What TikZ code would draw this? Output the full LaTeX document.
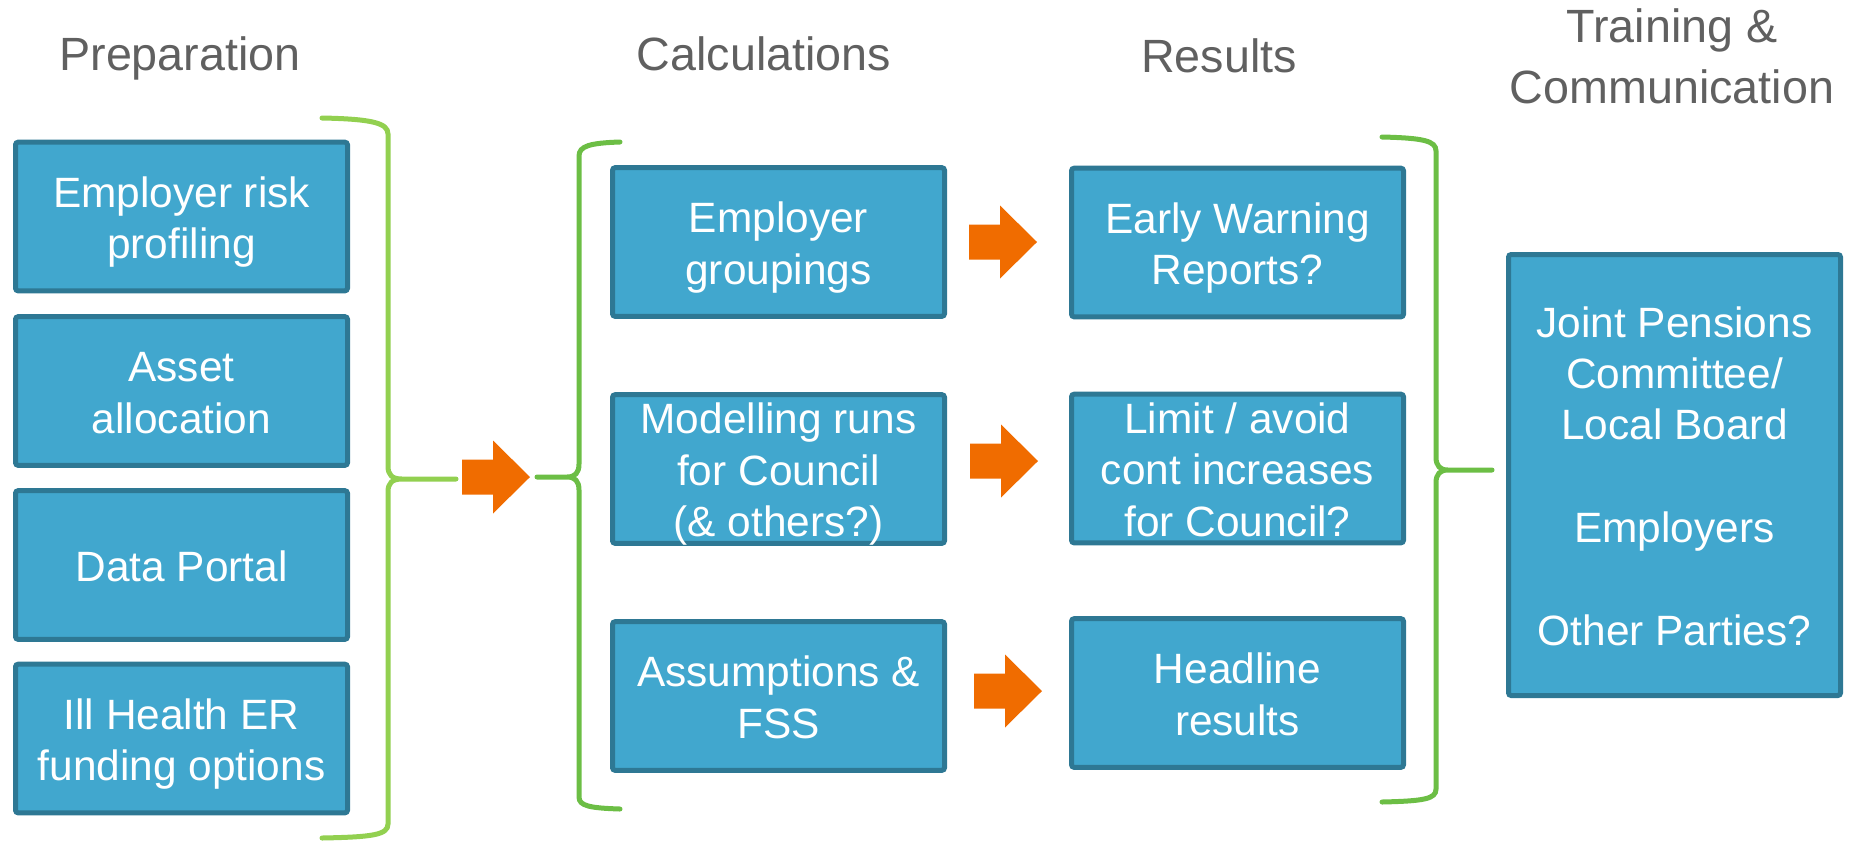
\documentclass[tikz,border=0pt]{standalone}
\usepackage{fontspec}
\setmainfont{Liberation Sans}
\usetikzlibrary{positioning}

\definecolor{boxfill}{RGB}{65,167,206}
\definecolor{boxline}{RGB}{46,120,148}
\definecolor{arroworange}{RGB}{240,108,0}
\definecolor{bracelight}{RGB}{146,208,80}
\definecolor{bracedark}{RGB}{108,190,69}
\definecolor{headgray}{RGB}{96,96,96}

% lines of a box, set like the slide, centred without growing the box
\newsavebox{\linesbox}
\newcommand{\boxlines}[1]{%
  \sbox{\linesbox}{\begin{tabular}{@{}c@{}}\rule{0pt}{1.14em}#1\end{tabular}}%
  \smash{\raisebox{\dimexpr(\dp\linesbox-\ht\linesbox)/2\relax}{\usebox{\linesbox}}}}
\newcommand{\orangearrow}[2]{%
  \fill[arroworange] (#1,#2) ++(0,-17.5) -- ++(31,0) -- ++(0,-19) -- ++(37,36.5)
    -- ++(-37,36.5) -- ++(0,-19) -- ++(-31,0) -- cycle;}

\begin{document}
\begin{tikzpicture}[x=0.75pt,y=0.75pt,yscale=-1,xscale=1,
    taskbox/.style={draw=boxline,fill=boxfill,line width=3.75pt,rounded corners=2pt,
      minimum width=249pt,minimum height=111.5pt,inner sep=0pt,text=white,
      font=\fontsize{31.8}{38.6}\selectfont},
    heading/.style={text=headgray,align=center,inner sep=0pt,
      font=\fontsize{35}{45.5}\selectfont},
    bracket/.style={line width=3.75pt,line cap=round}]
    \useasboundingbox (0,0) rectangle (1858,840);

    % Text Node
    \node[heading,anchor=base] (headPrep) at (180,70) {Preparation};
    % Text Node
    \node[heading,anchor=base] (headCalc) at (764,70) {Calculations};
    % Text Node
    \node[heading,anchor=base] (headRes) at (1219,72) {Results};
    % Text Node
    \node[heading] (headComm) at (1672,56.5) {Training \&\\Communication};

    %Shape: Rectangle
    \node[taskbox] (prepRisk) at (181.5,216.5) {\boxlines{Employer risk\\profiling}};
    \node[taskbox] (prepAsset) at (181.5,391) {\boxlines{Asset\\allocation}};
    \node[taskbox] (prepData) at (181.5,565) {\boxlines{Data Portal}};
    \node[taskbox] (prepIll) at (181.5,738.5) {\boxlines{Ill Health ER\\funding options}};

    %Shape: Rectangle
    \node[taskbox] (calcGroup) at (778.5,242) {\boxlines{Employer\\groupings}};
    \node[taskbox] (calcModel) at (778.5,469) {\boxlines{Modelling runs\\for Council\\(\& others?)}};
    \node[taskbox] (calcAssume) at (778.5,696) {\boxlines{Assumptions \&\\FSS}};

    %Shape: Rectangle
    \node[taskbox] (resWarn) at (1237.5,242.5) {\boxlines{Early Warning\\Reports?}};
    \node[taskbox] (resLimit) at (1237.5,468.5) {\boxlines{Limit / avoid\\cont increases\\for Council?}};
    \node[taskbox] (resHead) at (1237.5,693) {\boxlines{Headline\\results}};

    %Shape: Rectangle
    \node[taskbox,minimum height=330.75pt] (commBox) at (1674.5,475)
      {\boxlines{Joint Pensions\\Committee/\\Local Board\\[38.6pt]Employers\\[38.6pt]Other Parties?}};

    %Brackets
    \coordinate (prepTip) at (456,479);
    \coordinate (calcTip) at (537,477);
    \coordinate (resTip) at (1492,470);
    \draw[bracket,bracelight] (322,118) .. controls (372,119) and (388,123) .. (388,134)
      -- (388,466) .. controls (388,475) and (392,479) .. (402,479) -- (prepTip)
      (402,479) .. controls (392,479) and (388,483) .. (388,492)
      -- (388,824) .. controls (388,835) and (372,837) .. (322,838);
    \draw[bracket,bracedark] (620,142) .. controls (590,143) and (579,146) .. (579,156)
      -- (579,464) .. controls (579,473) and (575,477) .. (567,477) -- (calcTip)
      (567,477) .. controls (575,477) and (579,481) .. (579,490)
      -- (579,797) .. controls (579,806) and (590,808) .. (620,809);
    \draw[bracket,bracedark] (1382,137) .. controls (1424,138) and (1436,141) .. (1436,151)
      -- (1436,457) .. controls (1436,466) and (1440,470) .. (1448,470) -- (resTip)
      (1448,470) .. controls (1440,470) and (1436,474) .. (1436,483)
      -- (1436,789) .. controls (1436,799) and (1424,801) .. (1382,802);

    %Block Arrows
    \orangearrow{462}{477}
    \orangearrow{969}{242}
    \orangearrow{970}{461}
    \orangearrow{974}{691}
\end{tikzpicture}
\end{document}
